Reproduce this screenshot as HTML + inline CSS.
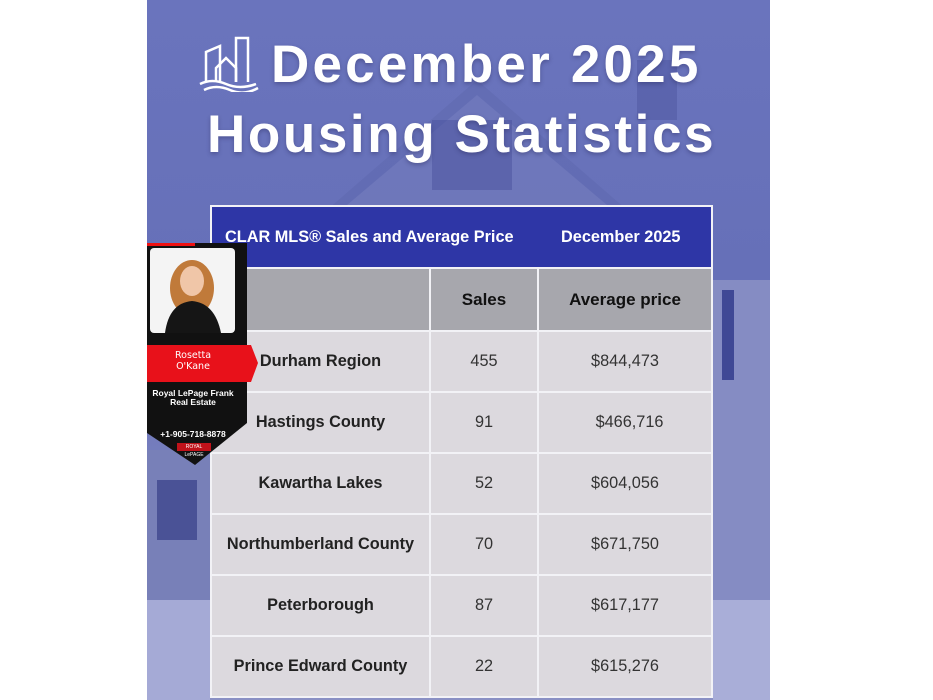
<!DOCTYPE html>
<html><head><meta charset="utf-8"><style>
*{margin:0;padding:0;box-sizing:border-box}
body{width:933px;height:700px;background:#fff;position:relative;overflow:hidden;font-family:"Liberation Sans",sans-serif}
#bg{position:absolute;left:147px;top:0;width:623px;height:700px;background:linear-gradient(180deg,#6a74bd 0%,#6670b8 40%,#7880be 70%,#8a90c4 100%);overflow:hidden}
.t{position:absolute;color:#fff;font-weight:bold;white-space:nowrap;text-shadow:0 2px 4px rgba(40,40,90,.4)}
table{position:absolute;left:210px;top:205px;width:503px;border-collapse:collapse;font-weight:bold}
td{border:2px solid #f2f2f6;text-align:center;font-size:16.3px;color:#222}
.h td{background:#2e36a6;color:#fff;height:62px;font-size:16.3px;position:relative}
.g td{background:#a7a7ad;height:63px;font-size:17px;color:#111}
.d td{background:#dcd9de;height:61px}
.d td.n{font-weight:normal;color:#333}
</style></head><body>
<div id="bg">
 <svg width="623" height="700" style="position:absolute;left:0;top:0">
  <polygon points="180,210 330,80 480,210" fill="#5e67ad" opacity=".5"/>
  <polygon points="200,205 330,95 460,205" fill="#7a82c2" opacity=".5"/>
  <rect x="285" y="120" width="80" height="70" fill="#4a529e" opacity=".5"/>
  <rect x="490" y="60" width="40" height="60" fill="#4d559f" opacity=".5"/>
  <rect x="566" y="280" width="57" height="320" fill="#858cc3"/>
  <rect x="575" y="290" width="12" height="90" fill="#3f4895"/>
  <rect x="0" y="450" width="63" height="250" fill="#7880b8"/>
  <rect x="10" y="480" width="40" height="60" fill="#4a5296"/>
  <rect x="566" y="600" width="57" height="100" fill="#a9aed8"/>
  <rect x="0" y="600" width="63" height="100" fill="#a5aad6"/>
 </svg>
</div>
<svg style="position:absolute;left:198px;top:34px" width="64" height="58"><g fill="none" stroke="#fff" stroke-width="2.5"><path d="M8 48 V18 L22 12 V48"/><path d="M38 48 V4 H50 V48"/><path d="M18 48 V34 L28 24 L38 34 V48"/><path d="M2 50 Q14 44 28 50 T58 50"/><path d="M6 56 Q18 50 32 56 T60 54"/></g></svg>
<div class="t" style="left:271px;top:34px;font-size:53px;letter-spacing:3.2px">December 2025</div>
<div class="t" style="left:207px;top:104px;font-size:53px;letter-spacing:2.6px">Housing Statistics</div>
<table>
<tr class="h"><td colspan="3" style="text-align:left;padding-left:13px">CLAR MLS® Sales and Average Price<span style="position:absolute;left:349px;top:21px">December 2025</span></td></tr>
<tr class="g"><td style="width:219px"></td><td style="width:108px">Sales</td><td>Average price</td></tr>
<tr class="d"><td>Durham Region</td><td class="n">455</td><td class="n">$844,473</td></tr>
<tr class="d"><td>Hastings County</td><td class="n">91</td><td class="n">&nbsp;&nbsp;$466,716</td></tr>
<tr class="d"><td>Kawartha Lakes</td><td class="n">52</td><td class="n">$604,056</td></tr>
<tr class="d"><td>Northumberland County</td><td class="n">70</td><td class="n">$671,750</td></tr>
<tr class="d"><td>Peterborough</td><td class="n">87</td><td class="n">$617,177</td></tr>
<tr class="d"><td>Prince Edward County</td><td class="n">22</td><td class="n">$615,276</td></tr>
</table>
<svg style="position:absolute;left:147px;top:243px" width="112" height="224">
 <polygon points="0,0 100,0 100,180 48,222 0,190" fill="#111"/>
 <rect x="0" y="0" width="48" height="3" fill="#e11"/>
 <rect x="3" y="5" width="85" height="85" rx="4" fill="#f4f4f4"/>
 <ellipse cx="45" cy="45" rx="22" ry="28" fill="#c07a3a"/>
 <ellipse cx="45" cy="38" rx="12" ry="15" fill="#f0c6a8"/>
 <path d="M18 90 Q22 60 45 58 Q68 60 74 90Z" fill="#151515"/>
 <polygon points="0,102 104,102 111,120 104,139 0,139" fill="#e8111a"/>
</svg>
<div style="position:absolute;left:147px;top:350px;width:92px;text-align:center;color:#fff;font-size:9.5px;line-height:11px;font-family:'DejaVu Sans',sans-serif">Rosetta<br>O'Kane</div>
<div style="position:absolute;left:147px;top:389px;width:92px;text-align:center;color:#fff;font-size:8.5px;line-height:9px;font-weight:bold">Royal LePage Frank<br>Real Estate</div>
<div style="position:absolute;left:147px;top:429px;width:92px;text-align:center;color:#fff;font-size:8.5px;font-weight:bold">+1-905-718-8878</div>
<div style="position:absolute;left:177px;top:443px;width:34px;height:8px;background:#c0121a;color:#fff;font-size:5px;text-align:center;line-height:8px">ROYAL LePAGE</div>
</body></html>
